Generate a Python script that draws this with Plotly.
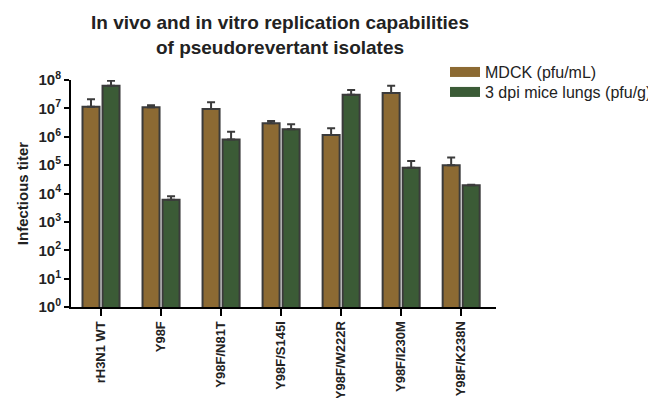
import plotly.graph_objects as go

categories = ["rH3N1 WT", "Y98F", "Y98F/N81T", "Y98F/S145I", "Y98F/W222R", "Y98F/I230M", "Y98F/K238N"]
mdck_values = [1.15e7, 1.1e7, 9.5e6, 3.0e6, 1.15e6, 3.5e7, 1.0e5]
mdck_err_top = [2.1e7, 1.3e7, 1.65e7, 3.6e6, 2.0e6, 6.3e7, 1.87e5]
mice_values = [6.3e7, 6.0e3, 8.0e5, 1.85e6, 3.0e7, 8.1e4, 1.95e4]
mice_err_top = [9.5e7, 8.0e3, 1.5e6, 2.75e6, 4.4e7, 1.4e5, 2.05e4]
ytick_exps = [0, 1, 2, 3, 4, 5, 6, 7, 8]
series_names = ["MDCK (pfu/mL)", "3 dpi mice lungs (pfu/g)"]
series_colors = ["#8C6A33", "#3B5B36"]

mdck_plus = [t - v for t, v in zip(mdck_err_top, mdck_values)]
mice_plus = [t - v for t, v in zip(mice_err_top, mice_values)]

outline = "#3b3b3b"
font_family = "Liberation Sans, Arial, sans-serif"

fig = go.Figure()
for name, color, vals, plus in [(series_names[0], series_colors[0], mdck_values, mdck_plus),
                                (series_names[1], series_colors[1], mice_values, mice_plus)]:
    fig.add_trace(go.Bar(
        x=categories, y=vals, name=name, showlegend=False,
        marker=dict(color=color, line=dict(color=outline, width=2)),
        error_y=dict(type="data", array=plus, arrayminus=[0]*len(plus), symmetric=False,
                     color=outline, thickness=2, width=4),
    ))
# legend-only entries giving wide rectangular swatches, one legend box per row
for i, (name, color) in enumerate(zip(series_names, series_colors)):
    fig.add_trace(go.Scatter(
        x=[None], y=[None], mode="lines", name=name,
        line=dict(color=color, width=11),
        legend="legend" if i == 0 else "legend2",
    ))

legend_common = dict(
    xref="paper", yref="paper", xanchor="left", yanchor="middle",
    font=dict(size=16, family=font_family, color="#222"),
    itemwidth=30, bgcolor="rgba(0,0,0,0)",
)

fig.update_layout(
    width=656, height=398,
    margin=dict(l=63, r=168, t=72, b=99, autoexpand=False),
    paper_bgcolor="white", plot_bgcolor="white",
    barmode="group", bargap=0.333, bargroupgap=0.15,
    font=dict(family=font_family, color="black"),
    legend=dict(x=0.88, y=1.035, **legend_common),
    legend2=dict(x=0.88, y=0.947, **legend_common),
    showlegend=True,
    annotations=[dict(
        text="<b>In vivo and in vitro replication capabilities<br>of pseudorevertant isolates</b>",
        xref="paper", yref="paper", x=0.492, y=1.307, xanchor="center", yanchor="top",
        showarrow=False, align="center",
        font=dict(size=19, family=font_family, color="#222"),
    )],
)
fig.update_xaxes(
    range=[-0.5, 6.58], showline=True, linecolor="black", linewidth=2,
    ticks="outside", ticklen=7, tickwidth=2, tickcolor="black",
    tickangle=-90, tickfont=dict(size=13, family=font_family, color="#222"),
    showgrid=False, zeroline=False, automargin=False,
    tickvals=categories, ticktext=[f"<b>{c}</b>" for c in categories],
)
fig.update_yaxes(
    type="log", range=[0, 8], showline=True, linecolor="black", linewidth=2,
    ticks="outside", ticklen=5, tickwidth=2, tickcolor="black",
    tickvals=[10**e for e in ytick_exps],
    ticktext=[f"<b>10<sup>{e}</sup></b>" for e in ytick_exps],
    tickfont=dict(size=15, family=font_family, color="#222"),
    showgrid=False, zeroline=False, automargin=False,
    title=dict(text="<b>Infectious titer</b>", font=dict(size=15, family=font_family, color="#222"), standoff=6),
)

fig.write_html("out.html")
